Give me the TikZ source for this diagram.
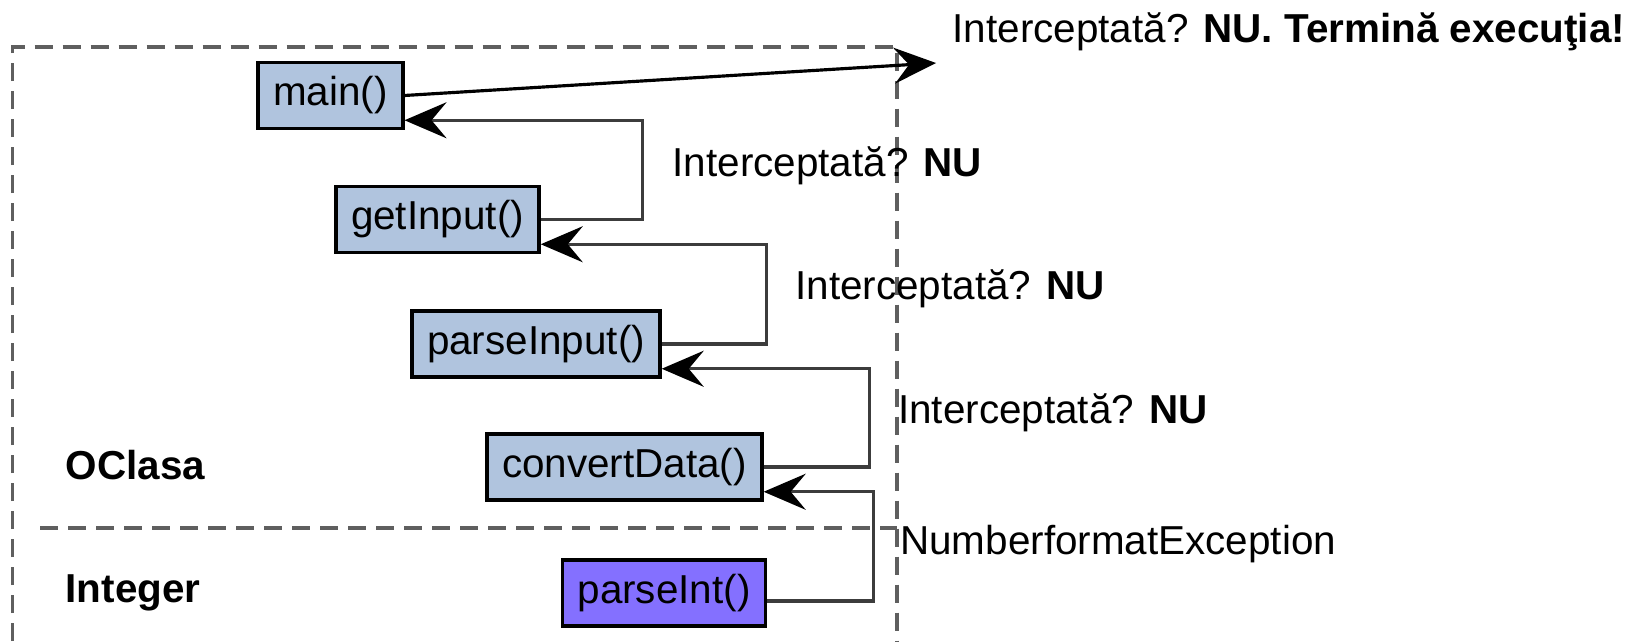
\documentclass[tikz,border=0pt]{standalone}
\usepackage{fontspec}
\setmainfont{Liberation Sans}
\usepackage{xcolor}
\usetikzlibrary{arrows.meta,positioning,calc}

\definecolor{steel}{RGB}{176,196,222}
\definecolor{slatepurple}{RGB}{132,112,255}
\definecolor{framegray}{RGB}{95,95,95}
\definecolor{linegray}{RGB}{60,60,60}

\begin{document}
\begin{tikzpicture}[
    method/.style={rectangle, draw=black, line width=1pt, minimum height=0.66cm, inner xsep=0.15cm, align=center, fill=steel, font=\fontsize{11.5}{13}\selectfont},
    callee/.style={method, fill=slatepurple},
    lbl/.style={anchor=west, inner sep=0pt, font=\fontsize{11.5}{13}\selectfont},
    classlbl/.style={lbl, font=\fontsize{11.5}{13}\selectfont\bfseries},
    frame/.style={draw=framegray, line width=0.9pt, dash pattern=on 0.18cm off 0.1cm},
    ret/.style={draw=linegray, line width=0.9pt, -{Stealth[length=0.42cm, width=0.36cm, inset=0.15cm, black]}},
    thrw/.style={ret, draw=black}]

\useasboundingbox (0,0) rectangle (16.46,-6.41);

% Class frame
\draw[frame] (0.126,-6.41) |- (8.97,-0.47) -- (8.97,-6.41);
\draw[frame] (0.40,-5.28) -- (8.97,-5.28);

% Call stack
\node[method] (main) at (3.305,-0.955) {main()};
\node[method] (getInput) at (4.375,-2.195) {getInput()};
\node[method] (parseInput) at (5.36,-3.44) {parseInput()};
\node[method] (convertData) at (6.245,-4.67) {convertData()};
\node[callee] (parseInt) at (6.64,-5.93) {parseInt()};

% Class names
\node[classlbl] (oclasa) at (0.65,-4.65) {OClasa};
\node[classlbl] (integer) at (0.65,-5.93) {Integer};

% Exception propagation
\coordinate (exit) at (9.36,-0.63);
\draw[thrw] (main.east) -- (exit);
\draw[ret] (getInput.east) -- ++(1.02,0) |- ([yshift=0.1cm]main.south east);
\draw[ret] (parseInput.east) -- ++(1.05,0) |- ([yshift=0.1cm]getInput.south east);
\draw[ret] (convertData.east) -- ++(1.06,0) |- ([yshift=0.1cm]parseInput.south east);
\draw[ret] ([yshift=-0.08cm]parseInt.east) -- ++(1.06,0) |- ([yshift=0.1cm]convertData.south east);

% Labels
\node[lbl] (q1) at (6.72,-1.66) {Interceptată? \textbf{NU}};
\node[lbl] (q2) at (7.946,-2.887) {Interceptată? \textbf{NU}};
\node[lbl] (q3) at (8.975,-4.125) {Interceptată? \textbf{NU}};
\node[lbl] (nfe) at (8.996,-5.437) {NumberformatException};
\node[lbl] (qend) at (9.52,-0.315) {Interceptată? \textbf{NU. Termină execuţia!}};

\end{tikzpicture}
\end{document}
